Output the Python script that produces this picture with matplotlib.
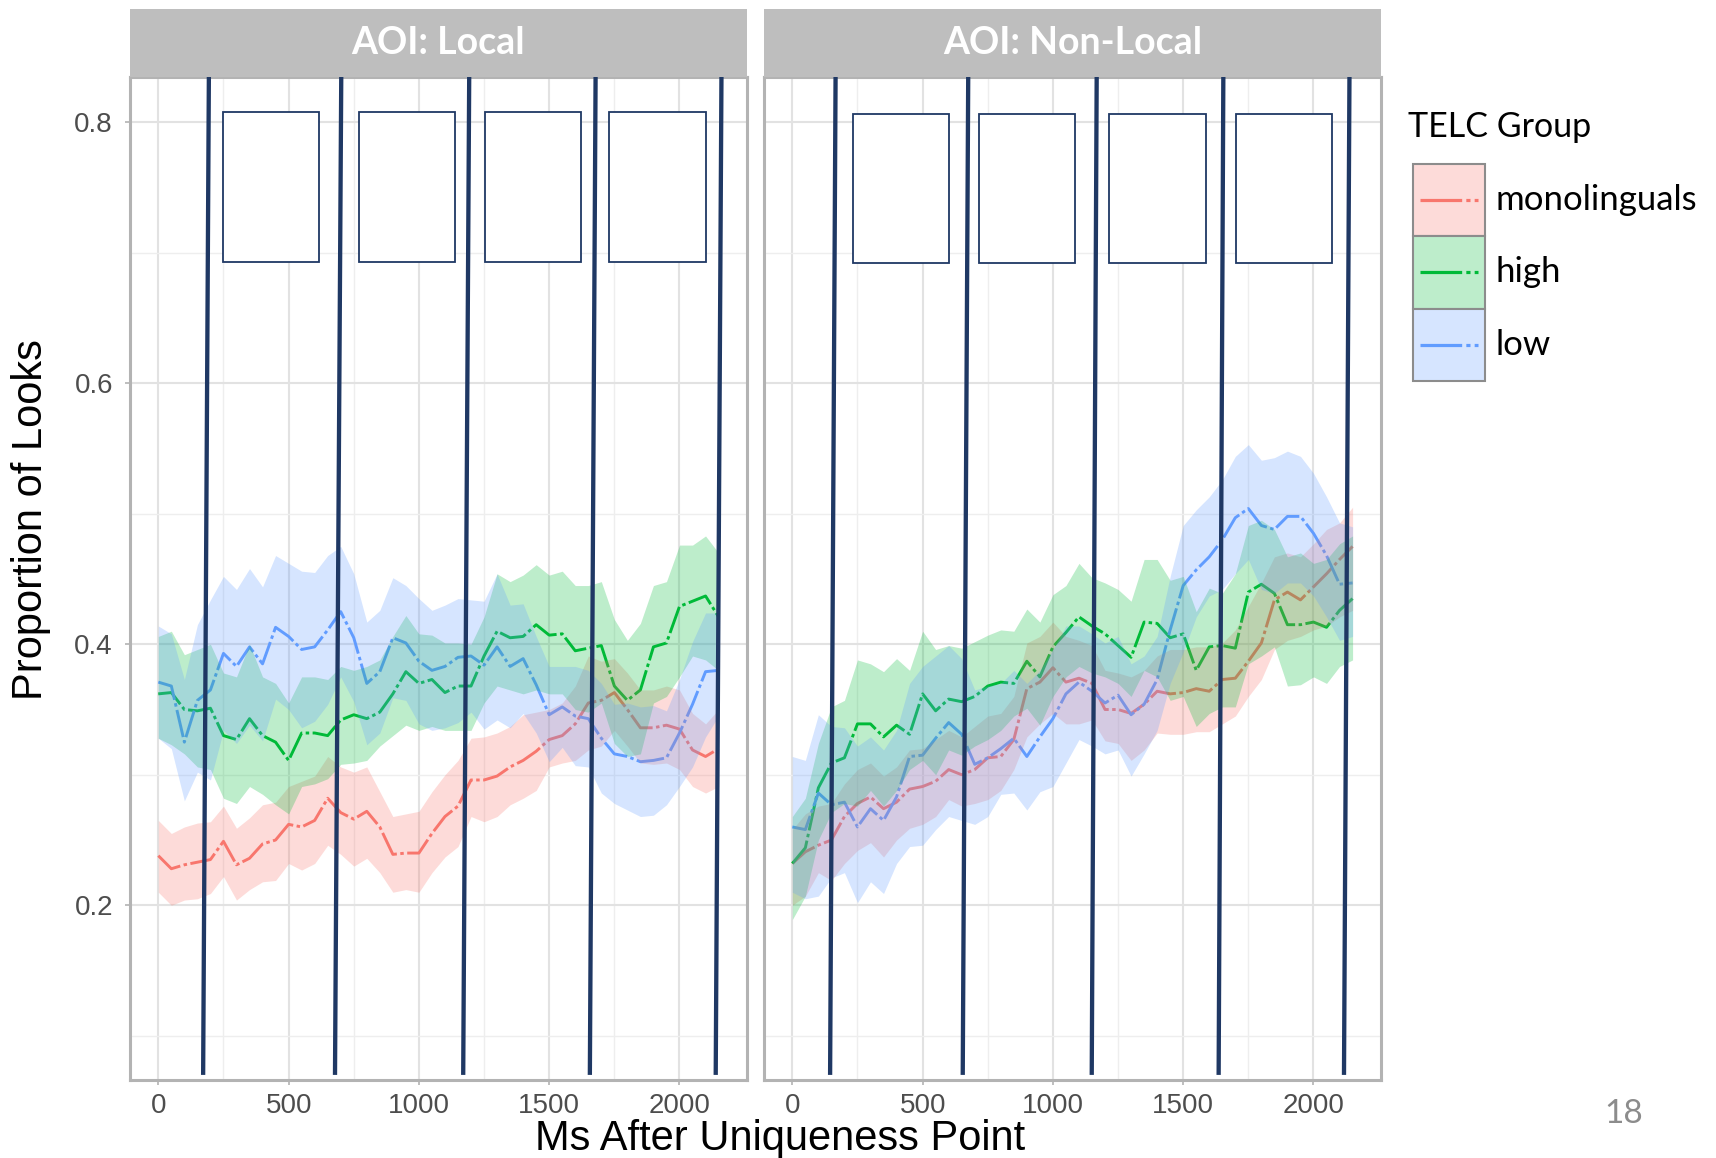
import matplotlib
matplotlib.use("Agg")
import matplotlib.pyplot as plt
from matplotlib.patches import Rectangle
import numpy as np

plt.rcParams['lines.scale_dashes'] = False
plt.rcParams['font.family'] = ['Liberation Sans', 'DejaVu Sans']

# ---------------- data ----------------
time_ms = np.arange(0, 2151, 50)  # 0 .. 2150 ms, 44 bins

panels = ["AOI: Local", "AOI: Non-Local"]
groups = ["monolinguals", "high", "low"]
group_colors = ["#F8766D", "#00BA38", "#619CFF"]

# AOI: Local
local_mono = [0.238, 0.228, 0.231, 0.233, 0.235, 0.249, 0.231, 0.236, 0.247, 0.250, 0.262, 0.260, 0.265, 0.282, 0.271,
              0.266, 0.272, 0.260, 0.239, 0.240, 0.240, 0.255, 0.268, 0.276, 0.296, 0.296, 0.299, 0.306, 0.311, 0.318,
              0.327, 0.330, 0.339, 0.355, 0.357, 0.363, 0.350, 0.336, 0.336, 0.338, 0.335, 0.319, 0.314, 0.320]
local_mono_hi = [0.265, 0.255, 0.260, 0.263, 0.264, 0.276, 0.259, 0.267, 0.277, 0.279, 0.291, 0.295, 0.299, 0.314, 0.306,
                 0.302, 0.306, 0.287, 0.268, 0.270, 0.272, 0.287, 0.300, 0.311, 0.328, 0.329, 0.332, 0.337, 0.346, 0.348,
                 0.350, 0.355, 0.368, 0.391, 0.387, 0.389, 0.378, 0.365, 0.365, 0.368, 0.365, 0.347, 0.339, 0.350]
local_mono_lo = [0.210, 0.200, 0.204, 0.205, 0.209, 0.222, 0.204, 0.212, 0.218, 0.219, 0.232, 0.227, 0.232, 0.246, 0.239,
                 0.230, 0.236, 0.225, 0.210, 0.212, 0.210, 0.225, 0.237, 0.245, 0.268, 0.264, 0.268, 0.277, 0.282, 0.288,
                 0.306, 0.309, 0.311, 0.319, 0.322, 0.334, 0.322, 0.309, 0.308, 0.309, 0.304, 0.291, 0.286, 0.291]

local_high = [0.362, 0.363, 0.350, 0.349, 0.351, 0.330, 0.327, 0.343, 0.330, 0.325, 0.311, 0.332, 0.332, 0.330, 0.342,
              0.346, 0.343, 0.348, 0.362, 0.379, 0.370, 0.373, 0.363, 0.368, 0.368, 0.391, 0.410, 0.405, 0.406, 0.415,
              0.407, 0.408, 0.395, 0.397, 0.399, 0.368, 0.357, 0.365, 0.398, 0.401, 0.429, 0.433, 0.437, 0.421]
local_high_hi = [0.406, 0.410, 0.392, 0.396, 0.400, 0.378, 0.375, 0.400, 0.375, 0.370, 0.355, 0.375, 0.375, 0.373, 0.383,
                 0.380, 0.383, 0.388, 0.406, 0.422, 0.408, 0.407, 0.401, 0.401, 0.400, 0.421, 0.454, 0.448, 0.453, 0.461,
                 0.453, 0.456, 0.445, 0.445, 0.448, 0.419, 0.403, 0.416, 0.445, 0.448, 0.476, 0.476, 0.483, 0.470]
local_high_lo = [0.328, 0.323, 0.316, 0.306, 0.304, 0.282, 0.278, 0.291, 0.285, 0.277, 0.270, 0.291, 0.293, 0.297, 0.308,
                 0.309, 0.311, 0.322, 0.330, 0.338, 0.334, 0.337, 0.334, 0.334, 0.334, 0.355, 0.368, 0.365, 0.362, 0.365,
                 0.362, 0.362, 0.350, 0.348, 0.355, 0.324, 0.314, 0.316, 0.355, 0.360, 0.375, 0.391, 0.388, 0.380]

local_low = [0.371, 0.368, 0.325, 0.357, 0.365, 0.393, 0.383, 0.398, 0.385, 0.413, 0.406, 0.396, 0.398, 0.411, 0.425,
             0.405, 0.370, 0.379, 0.405, 0.401, 0.387, 0.380, 0.383, 0.390, 0.391, 0.384, 0.398, 0.383, 0.389, 0.369,
             0.346, 0.352, 0.345, 0.343, 0.328, 0.316, 0.314, 0.310, 0.311, 0.313, 0.332, 0.354, 0.379, 0.380]
local_low_hi = [0.414, 0.408, 0.373, 0.415, 0.434, 0.452, 0.442, 0.458, 0.444, 0.468, 0.462, 0.456, 0.455, 0.468, 0.475,
                0.454, 0.417, 0.426, 0.451, 0.445, 0.435, 0.426, 0.430, 0.435, 0.434, 0.433, 0.454, 0.430, 0.431, 0.406,
                0.383, 0.383, 0.383, 0.380, 0.370, 0.354, 0.355, 0.352, 0.353, 0.349, 0.373, 0.402, 0.424, 0.424]
local_low_lo = [0.328, 0.320, 0.280, 0.302, 0.296, 0.334, 0.324, 0.338, 0.326, 0.358, 0.350, 0.336, 0.341, 0.354, 0.375,
                0.356, 0.323, 0.332, 0.359, 0.357, 0.339, 0.334, 0.336, 0.340, 0.348, 0.335, 0.342, 0.336, 0.347, 0.332,
                0.310, 0.321, 0.307, 0.306, 0.286, 0.278, 0.273, 0.268, 0.269, 0.277, 0.291, 0.306, 0.329, 0.345]

# AOI: Non-Local
nonlocal_mono = [0.232, 0.241, 0.246, 0.250, 0.268, 0.278, 0.283, 0.274, 0.279, 0.289, 0.291, 0.295, 0.304, 0.300, 0.304,
                 0.313, 0.314, 0.327, 0.366, 0.371, 0.382, 0.371, 0.374, 0.370, 0.350, 0.350, 0.347, 0.354, 0.364, 0.362,
                 0.363, 0.366, 0.364, 0.373, 0.374, 0.387, 0.401, 0.434, 0.440, 0.434, 0.444, 0.454, 0.465, 0.475]
nonlocal_mono_hi = [0.258, 0.270, 0.276, 0.278, 0.293, 0.304, 0.309, 0.299, 0.306, 0.319, 0.320, 0.327, 0.334, 0.329, 0.337,
                    0.345, 0.347, 0.360, 0.401, 0.406, 0.417, 0.406, 0.403, 0.399, 0.380, 0.378, 0.375, 0.380, 0.391, 0.396,
                    0.396, 0.398, 0.398, 0.401, 0.411, 0.429, 0.447, 0.467, 0.470, 0.467, 0.477, 0.488, 0.493, 0.505]
nonlocal_mono_lo = [0.200, 0.207, 0.225, 0.219, 0.232, 0.242, 0.248, 0.237, 0.250, 0.259, 0.262, 0.268, 0.281, 0.276, 0.278,
                    0.281, 0.288, 0.304, 0.329, 0.339, 0.347, 0.339, 0.339, 0.342, 0.326, 0.324, 0.311, 0.319, 0.332, 0.331,
                    0.331, 0.333, 0.333, 0.339, 0.345, 0.360, 0.373, 0.396, 0.403, 0.406, 0.411, 0.414, 0.421, 0.426]

nonlocal_high = [0.232, 0.244, 0.290, 0.309, 0.313, 0.339, 0.339, 0.329, 0.338, 0.331, 0.362, 0.349, 0.358, 0.356, 0.360,
                 0.368, 0.371, 0.370, 0.387, 0.375, 0.398, 0.409, 0.421, 0.414, 0.408, 0.399, 0.390, 0.417, 0.416, 0.405,
                 0.408, 0.380, 0.398, 0.399, 0.397, 0.440, 0.446, 0.439, 0.415, 0.415, 0.417, 0.413, 0.426, 0.435]
nonlocal_high_hi = [0.268, 0.282, 0.324, 0.352, 0.357, 0.388, 0.385, 0.379, 0.389, 0.380, 0.410, 0.396, 0.399, 0.397, 0.402,
                    0.407, 0.411, 0.410, 0.427, 0.417, 0.438, 0.445, 0.462, 0.451, 0.447, 0.442, 0.433, 0.465, 0.465, 0.449,
                    0.452, 0.425, 0.443, 0.439, 0.454, 0.491, 0.495, 0.488, 0.467, 0.470, 0.462, 0.465, 0.477, 0.483]
nonlocal_high_lo = [0.189, 0.207, 0.250, 0.271, 0.278, 0.276, 0.288, 0.276, 0.288, 0.304, 0.311, 0.300, 0.319, 0.315, 0.322,
                    0.327, 0.334, 0.345, 0.351, 0.338, 0.360, 0.375, 0.383, 0.378, 0.375, 0.370, 0.360, 0.380, 0.375, 0.357,
                    0.360, 0.337, 0.347, 0.352, 0.352, 0.385, 0.391, 0.398, 0.368, 0.369, 0.375, 0.370, 0.383, 0.388]

nonlocal_low = [0.260, 0.258, 0.286, 0.277, 0.279, 0.260, 0.274, 0.265, 0.283, 0.314, 0.315, 0.328, 0.340, 0.331, 0.308,
                0.313, 0.320, 0.328, 0.314, 0.329, 0.343, 0.362, 0.371, 0.364, 0.355, 0.361, 0.346, 0.354, 0.373, 0.411,
                0.445, 0.457, 0.467, 0.480, 0.497, 0.504, 0.491, 0.488, 0.498, 0.498, 0.485, 0.468, 0.446, 0.447]
nonlocal_low_hi = [0.314, 0.311, 0.346, 0.337, 0.336, 0.322, 0.329, 0.319, 0.334, 0.370, 0.383, 0.391, 0.399, 0.389, 0.365,
                   0.368, 0.370, 0.380, 0.370, 0.380, 0.396, 0.414, 0.414, 0.408, 0.401, 0.406, 0.385, 0.391, 0.406, 0.452,
                   0.491, 0.503, 0.513, 0.526, 0.544, 0.553, 0.541, 0.543, 0.548, 0.544, 0.531, 0.513, 0.493, 0.490]
nonlocal_low_lo = [0.210, 0.205, 0.207, 0.221, 0.225, 0.202, 0.218, 0.209, 0.232, 0.245, 0.246, 0.258, 0.268, 0.265, 0.262,
                   0.268, 0.285, 0.286, 0.273, 0.287, 0.291, 0.309, 0.327, 0.322, 0.316, 0.319, 0.299, 0.316, 0.334, 0.370,
                   0.394, 0.421, 0.437, 0.442, 0.454, 0.465, 0.442, 0.439, 0.447, 0.447, 0.437, 0.421, 0.403, 0.406]

x_ticks = [0, 500, 1000, 1500, 2000]
y_ticks = [0.2, 0.4, 0.6, 0.8]
y_tick_labels = ["0.2", "0.4", "0.6", "0.8"]

# slide overlay annotations (ms positions of the vertical bars at top / bottom, boxes)
local_bars_top = [194, 702, 1193, 1678, 2161]
local_bars_bottom = [172, 678, 1170, 1656, 2139]
nonlocal_bars_top = [166, 675, 1168, 1654, 2138]
nonlocal_bars_bottom = [145, 654, 1149, 1636, 2117]
local_boxes_x = [(248, 617), (769, 1137), (1254, 1622), (1731, 2100)]
nonlocal_boxes_x = [(234, 603), (717, 1086), (1217, 1586), (1701, 2072)]
local_boxes_y = (0.693, 0.808)
nonlocal_boxes_y = (0.692, 0.806)
bar_y_bottom = 0.070

series = {
    "AOI: Local": [(local_mono, local_mono_lo, local_mono_hi),
                   (local_high, local_high_lo, local_high_hi),
                   (local_low, local_low_lo, local_low_hi)],
    "AOI: Non-Local": [(nonlocal_mono, nonlocal_mono_lo, nonlocal_mono_hi),
                       (nonlocal_high, nonlocal_high_lo, nonlocal_high_hi),
                       (nonlocal_low, nonlocal_low_lo, nonlocal_low_hi)],
}
overlays = {
    "AOI: Local": (local_bars_top, local_bars_bottom, local_boxes_x, local_boxes_y),
    "AOI: Non-Local": (nonlocal_bars_top, nonlocal_bars_bottom, nonlocal_boxes_x, nonlocal_boxes_y),
}

# ---------------- figure ----------------
W, H = 1716, 1158
fig = plt.figure(figsize=(W / 100, H / 100), dpi=100)
fig.patch.set_facecolor("white")

XLIM = (-107.5, 2257.5)
YLIM = (0.0661, 0.8347)
panel_left_px = [130.3, 764.3]
panel_w_px = 616.3
panel_top_px, panel_bot_px = 77, 1080
strip_top_px = 9

navy = "#1f3864"
line_dash = (20, 2.5, 2.5, 2.5)

axes = []
for p, name in enumerate(panels):
    ax = fig.add_axes([panel_left_px[p] / W, 1 - panel_bot_px / H,
                       panel_w_px / W, (panel_bot_px - panel_top_px) / H])
    axes.append(ax)
    ax.set_xlim(*XLIM)
    ax.set_ylim(*YLIM)
    ax.set_facecolor("white")
    ax.set_xticks(x_ticks)
    ax.set_xticks([250, 750, 1250, 1750], minor=True)
    ax.set_yticks(y_ticks)
    ax.set_yticks([0.1, 0.3, 0.5, 0.7], minor=True)
    ax.set_yticklabels(y_tick_labels)
    ax.grid(which="major", color="#e2e2e2", lw=1.5)
    ax.grid(which="minor", color="#eeeeee", lw=1.0)
    ax.set_axisbelow(True)
    for sp in ax.spines.values():
        sp.set_color("#b3b3b3")
        sp.set_linewidth(2.2)
    ax.tick_params(which="minor", length=0)
    ax.tick_params(which="major", length=3.5, width=1.2, color="#b3b3b3",
                   labelsize=20, labelcolor="#4d4d4d", pad=6)
    if p == 1:
        ax.tick_params(axis="y", left=False, labelleft=False)
    else:
        ax.tick_params(axis="y", pad=9)

    # lines first, then translucent ribbons on top (as in the original)
    for (mean, lo, hi), col in zip(series[name], group_colors):
        ax.plot(time_ms, mean, color=col, lw=2.1, dashes=line_dash, zorder=2)
    for (mean, lo, hi), col in zip(series[name], group_colors):
        ax.fill_between(time_ms, lo, hi, color=col, alpha=0.26, lw=0, zorder=3)

    # overlay annotations
    tops, bots, boxes_x, boxes_y = overlays[name]
    for xt, xb in zip(tops, bots):
        ax.plot([xt, xb], [YLIM[1], bar_y_bottom], color=navy, lw=3.1,
                solid_capstyle="butt", zorder=5, clip_on=True)
    for x0, x1 in boxes_x:
        ax.add_patch(Rectangle((x0, boxes_y[0]), x1 - x0, boxes_y[1] - boxes_y[0],
                               facecolor="white", edgecolor=navy, lw=1.3, zorder=6))

    # facet strip
    sax = fig.add_axes([panel_left_px[p] / W, 1 - panel_top_px / H,
                        panel_w_px / W, (panel_top_px - strip_top_px) / H])
    sax.set_facecolor("#bebebe")
    sax.set_xticks([]); sax.set_yticks([])
    for sp in sax.spines.values():
        sp.set_visible(False)
    sax.text(0.5, 0.5, name, transform=sax.transAxes, ha="center", va="center",
             color="white", fontsize=27, fontweight="bold", family=["Lato", "DejaVu Sans"])

# axis titles
fig.text(31 / W, 1 - 520 / H, "Proportion of Looks", rotation=90, ha="center", va="center",
         fontsize=30, color="black")
fig.text(780 / W, 1 - 1150 / H, "Ms After Uniqueness Point", ha="center", va="baseline",
         fontsize=30, color="black")

# legend (drawn in pixel space)
lax = fig.add_axes([0, 0, 1, 1], zorder=10)
lax.set_xlim(0, W); lax.set_ylim(H, 0)
lax.axis("off")
lax.patch.set_alpha(0)
lax.text(1408, 127, "TELC Group", ha="left", va="center", fontsize=24.5,
         family=["Lato", "DejaVu Sans"], color="black")
key_x, key_w, key_h, key_top = 1413, 72, 72.3, 164
for k, (g, col) in enumerate(zip(groups, group_colors)):
    y0 = key_top + k * key_h
    lax.add_patch(Rectangle((key_x, y0), key_w, key_h, facecolor="white", edgecolor="none"))
    lax.add_patch(Rectangle((key_x, y0), key_w, key_h, facecolor=col, alpha=0.26, edgecolor="none"))
    lax.add_patch(Rectangle((key_x, y0), key_w, key_h, facecolor="none", edgecolor="#8c8c8c", lw=1.5))
    lax.plot([key_x + 7, key_x + key_w - 7], [y0 + key_h / 2] * 2, color=col, lw=2.3,
             dashes=(30, 3, 3, 3))
    lax.text(1495, y0 + key_h / 2, g, ha="left", va="center", fontsize=25,
             family=["Lato", "DejaVu Sans"], color="black")

# slide number
fig.text(1624 / W, 1 - 1114 / H, "18", ha="center", va="center", fontsize=24,
         family=["Lato", "DejaVu Sans"], color="#8c8c8c")

fig.savefig("out.png", dpi=100, facecolor="white")
